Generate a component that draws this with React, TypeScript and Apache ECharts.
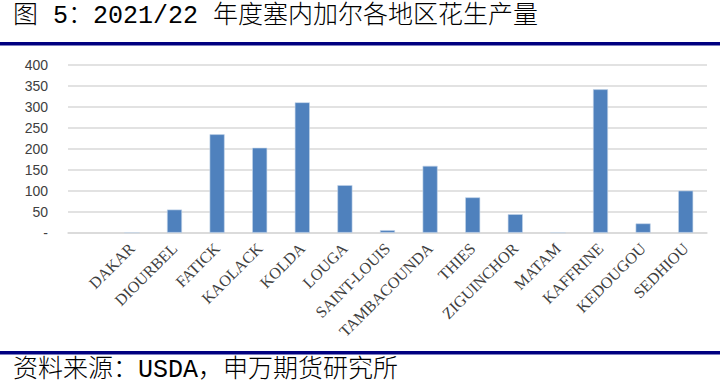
import React, { useEffect, useRef } from "react";
import * as echarts from "echarts";

const TITLE = "图 5：2021/22 年度塞内加尔各地区花生产量";
const SOURCE = "资料来源：USDA，申万期货研究所";

const categories: string[] = [
  "",
  "DAKAR",
  "DIOURBEL",
  "FATICK",
  "KAOLACK",
  "KOLDA",
  "LOUGA",
  "SAINT-LOUIS",
  "TAMBACOUNDA",
  "THIES",
  "ZIGUINCHOR",
  "MATAM",
  "KAFFRINE",
  "KEDOUGOU",
  "SEDHIOU",
];

const production: (number | null)[] = [
  null, 0, 55, 234, 202, 310, 113, 6, 159, 84, 44, 0, 341, 22, 100,
];

const yMin = 0;
const yMax = 400;
const yStep = 50;

export default function App() {
  const ref = useRef<HTMLDivElement>(null);

  useEffect(() => {
    if (!ref.current) return;
    const chart = echarts.init(ref.current, undefined, { renderer: "svg" });
    const cjk = '"Liberation Mono", "Noto Sans CJK SC", monospace';
    chart.setOption({
      animation: false,
      backgroundColor: "#ffffff",
      grid: {
        left: 68,
        right: 13,
        top: 64.5,
        bottom: 159.3,
        containLabel: false,
        outerBoundsMode: "none",
      },
      xAxis: {
        type: "category",
        data: categories,
        axisLine: { show: true, lineStyle: { color: "#d9d9d9", width: 1.5 } },
        axisTick: { show: false },
        axisLabel: {
          interval: 0,
          rotate: 45,
          margin: 13,
          fontFamily: '"Liberation Serif", "Times New Roman", serif',
          fontSize: 16,
          color: "#404040",
        },
      },
      yAxis: {
        type: "value",
        min: yMin,
        max: yMax,
        interval: yStep,
        axisLine: { show: false },
        axisTick: { show: false },
        splitLine: { lineStyle: { color: "#d9d9d9", width: 1.5 } },
        axisLabel: {
          margin: 20,
          fontFamily: '"Liberation Sans", Arial, sans-serif',
          fontSize: 14,
          color: "#404040",
          formatter: (v: number) => (v === 0 ? "-" : String(v)),
        },
      },
      series: [
        {
          type: "bar",
          data: production,
          barWidth: 15,
          itemStyle: {
            color: "#4F81BD",
            borderColor: "#c5d5ea",
            borderWidth: 0.6,
          },
        },
      ],
      graphic: [
        {
          type: "text",
          left: 13,
          top: 4,
          style: {
            text: TITLE,
            font: `300 25px ${cjk}`,
            fill: "#000000",
          },
        },
        {
          type: "rect",
          shape: { x: 0, y: 42, width: 720, height: 3.5 },
          style: { fill: "#000080" },
        },
        {
          type: "rect",
          shape: { x: 0, y: 351, width: 720, height: 3.5 },
          style: { fill: "#000080" },
        },
        {
          type: "text",
          left: 13,
          top: 358,
          style: {
            text: SOURCE,
            font: `300 25px ${cjk}`,
            fill: "#000000",
          },
        },
      ],
    });
    return () => chart.dispose();
  }, []);

  return (
    <div
      ref={ref}
      style={{ position: "fixed", left: 0, top: 0, width: 720, height: 392 }}
    />
  );
}
